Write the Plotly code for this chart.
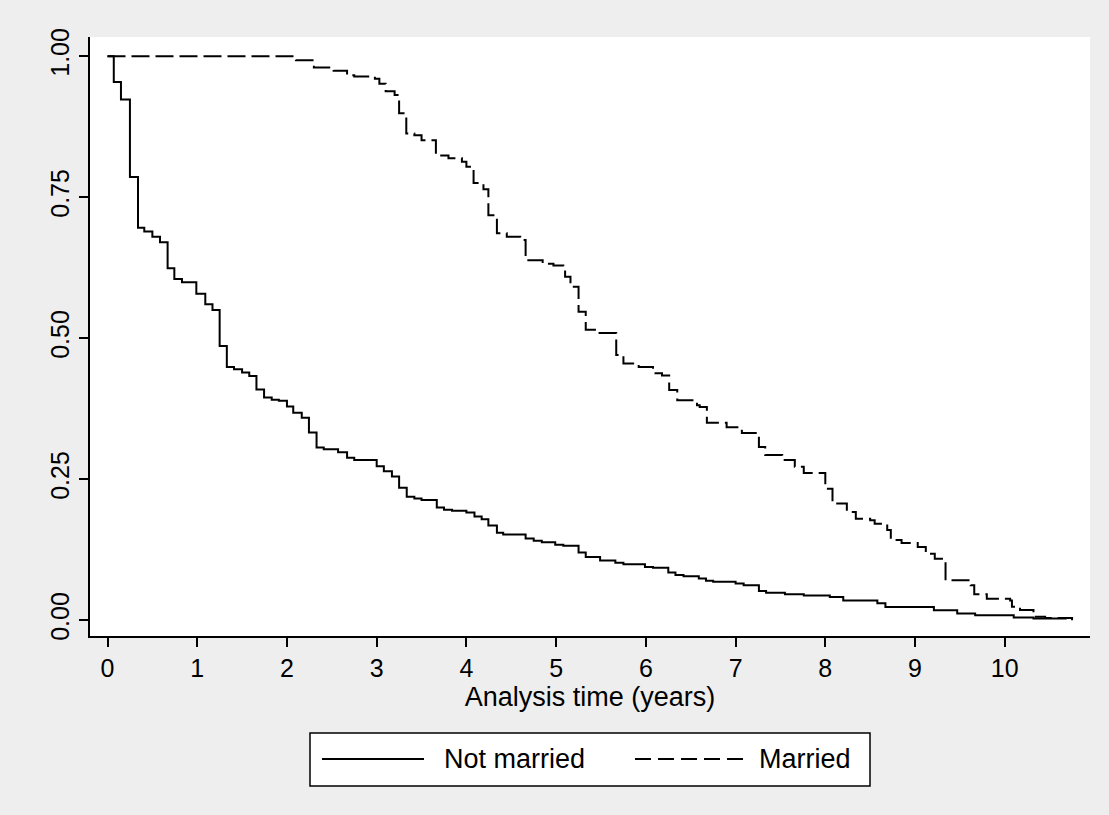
import plotly.graph_objects as go

# Kaplan-Meier survival estimates (step functions)
not_married_t = [0, 0.07, 0.15, 0.25, 0.34, 0.41, 0.50, 0.585, 0.67, 0.745, 0.83, 0.99, 1.09, 1.17,
                 1.25, 1.33, 1.41, 1.50, 1.58, 1.66, 1.745, 1.83, 1.91, 2.00, 2.07, 2.165, 2.245,
                 2.33, 2.41, 2.57, 2.67, 2.75, 3.00, 3.08, 3.17, 3.25, 3.335, 3.42, 3.50, 3.67,
                 3.75, 3.84, 4.00, 4.09, 4.17, 4.245, 4.34, 4.41, 4.66, 4.75, 4.84, 4.99, 5.08,
                 5.25, 5.33, 5.49, 5.66, 5.75, 5.99, 6.08, 6.25, 6.33, 6.42, 6.59, 6.67, 6.75,
                 7.00, 7.09, 7.26, 7.34, 7.55, 7.76, 8.05, 8.20, 8.58, 8.67, 9.21, 9.47, 9.67,
                 10.10, 10.32, 10.69]
not_married_s = [1.0, 0.954, 0.923, 0.786, 0.696, 0.689, 0.680, 0.670, 0.624, 0.605, 0.599, 0.579,
                 0.560, 0.550, 0.486, 0.449, 0.445, 0.439, 0.433, 0.409, 0.395, 0.391, 0.389,
                 0.379, 0.368, 0.359, 0.333, 0.306, 0.303, 0.298, 0.288, 0.284, 0.273, 0.264,
                 0.255, 0.235, 0.219, 0.216, 0.213, 0.200, 0.196, 0.194, 0.191, 0.184, 0.179,
                 0.168, 0.155, 0.152, 0.145, 0.141, 0.138, 0.134, 0.132, 0.120, 0.112, 0.106,
                 0.102, 0.099, 0.0945, 0.093, 0.0845, 0.080, 0.078, 0.074, 0.070, 0.068, 0.065,
                 0.062, 0.052, 0.0485, 0.046, 0.044, 0.041, 0.035, 0.030, 0.0236, 0.0177,
                 0.0118, 0.0089, 0.0047, 0.003, 0.003]

married_t = [0, 2.10, 2.30, 2.52, 2.67, 2.75, 2.98, 3.03, 3.10, 3.20, 3.25, 3.33, 3.42, 3.50,
             3.66, 3.80, 3.95, 4.00, 4.08, 4.19, 4.245, 4.34, 4.45, 4.60, 4.66, 4.85, 4.97,
             5.08, 5.10, 5.16, 5.25, 5.33, 5.45, 5.67, 5.75, 5.92, 6.08, 6.18, 6.26, 6.35,
             6.57, 6.60, 6.68, 6.90, 7.07, 7.26, 7.33, 7.52, 7.66, 7.76, 8.00, 8.08, 8.24,
             8.34, 8.50, 8.55, 8.69, 8.73, 8.85, 9.03, 9.12, 9.22, 9.34, 9.62, 9.66, 9.80,
             10.06, 10.08, 10.17, 10.32, 10.45, 10.75]
married_s = [1.0, 0.993, 0.980, 0.974, 0.966, 0.964, 0.960, 0.951, 0.938, 0.931, 0.899, 0.863,
             0.860, 0.851, 0.824, 0.819, 0.813, 0.804, 0.775, 0.764, 0.718, 0.686, 0.680,
             0.674, 0.638, 0.632, 0.629, 0.624, 0.609, 0.591, 0.547, 0.515, 0.509, 0.470,
             0.455, 0.449, 0.438, 0.434, 0.408, 0.390, 0.381, 0.378, 0.350, 0.342, 0.332,
             0.307, 0.293, 0.284, 0.272, 0.261, 0.233, 0.207, 0.192, 0.180, 0.177, 0.171,
             0.160, 0.142, 0.137, 0.130, 0.118, 0.109, 0.071, 0.062, 0.046, 0.038, 0.035,
             0.024, 0.018, 0.006, 0.004, 0.0]

x_ticks = [0, 1, 2, 3, 4, 5, 6, 7, 8, 9, 10]
y_ticks = [0, 0.25, 0.5, 0.75, 1.0]
y_tick_labels = ["0.00", "0.25", "0.50", "0.75", "1.00"]
series_names = ["Not married", "Married"]
x_title = "Analysis time (years)"

FONT = "Liberation Sans, Arial, sans-serif"
DASH = "18px,6px"

fig = go.Figure()
fig.add_trace(go.Scatter(x=not_married_t, y=not_married_s, mode="lines", name=series_names[0],
                         line=dict(shape="hv", color="black", width=2), showlegend=False))
fig.add_trace(go.Scatter(x=married_t, y=married_s, mode="lines", name=series_names[1],
                         line=dict(shape="hv", color="black", width=2, dash=DASH), showlegend=False))

fig.update_layout(
    width=1109, height=815, autosize=False,
    margin=dict(l=90, r=19, t=37, b=179),
    paper_bgcolor="#eeeeee", plot_bgcolor="white",
    font=dict(family=FONT, color="black", size=26),
    xaxis=dict(range=[-0.195, 10.95], tickvals=x_ticks, ticks="outside", ticklen=9, tickwidth=1.5,
               tickcolor="black", showline=True, linecolor="black", linewidth=2,
               showgrid=False, zeroline=False, tickfont=dict(size=25),
               title=dict(text=x_title, font=dict(size=27), standoff=0)),
    yaxis=dict(range=[-0.028, 1.034], tickvals=y_ticks, ticktext=y_tick_labels, tickangle=-90,
               ticks="outside", ticklen=9, tickwidth=1.5, tickcolor="black", showline=True,
               linecolor="black", linewidth=2, showgrid=False, zeroline=False,
               tickfont=dict(size=25)),
)

# Legend box drawn in paper coordinates (Stata-style wide line samples)
ly = -0.2053
fig.add_shape(type="rect", xref="paper", yref="paper", x0=0.22, x1=0.78, y0=-0.2504, y1=-0.162,
              line=dict(color="black", width=1.5), fillcolor="white")
fig.add_shape(type="line", xref="paper", yref="paper", x0=0.232, x1=0.334, y0=ly, y1=ly,
              line=dict(color="black", width=2))
fig.add_shape(type="line", xref="paper", yref="paper", x0=0.545, x1=0.653, y0=ly, y1=ly,
              line=dict(color="black", width=2, dash="16px,7px"))
fig.add_annotation(xref="paper", yref="paper", x=0.352, y=ly, text=series_names[0],
                   showarrow=False, xanchor="left", yanchor="middle", font=dict(size=27))
fig.add_annotation(xref="paper", yref="paper", x=0.667, y=ly, text=series_names[1],
                   showarrow=False, xanchor="left", yanchor="middle", font=dict(size=27))

fig.write_html("out.html")
